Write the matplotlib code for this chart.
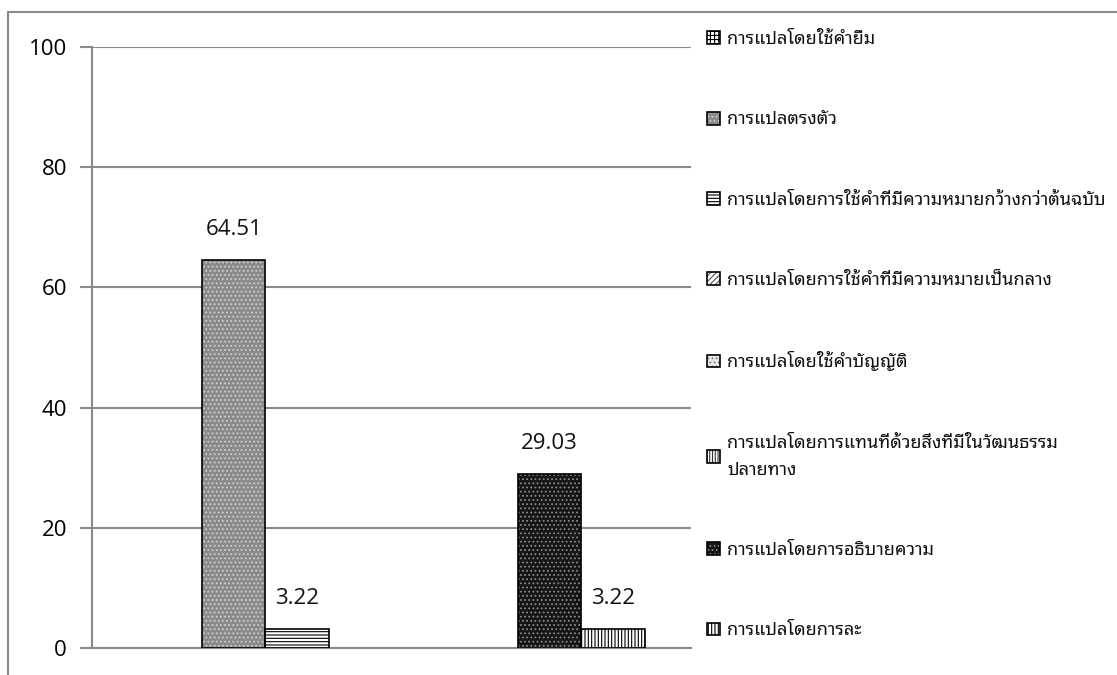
import matplotlib
matplotlib.use("Agg")
import matplotlib.pyplot as plt
from matplotlib.patches import Patch, Rectangle
from matplotlib.legend_handler import HandlerTuple

# translation methods (legend order)
methods = [
    "การแปลโดยใช้คำยืม",
    "การแปลตรงตัว",
    "การแปลโดยการใช้คำที่มีความหมายกว้างกว่าต้นฉบับ",
    "การแปลโดยการใช้คำที่มีความหมายเป็นกลาง",
    "การแปลโดยใช้คำบัญญัติ",
    "การแปลโดยการแทนที่ด้วยสิ่งที่มีในวัฒนธรรม\nปลายทาง",
    "การแปลโดยการอธิบายความ",
    "การแปลโดยการละ",
]
# percentages for the two groups, one value per method (None = not used)
group1 = [None, 64.51, 3.22, None, None, None, None, None]
group2 = [None, None, None, None, None, None, 29.03, 3.22]

# fill, hatch, hatch colour per method
styles = [
    ("white", "++++", "black"),
    ("#8a8a8a", "....", "#d0d0d0"),
    ("white", "-----", "black"),
    ("white", "//////", "#555555"),
    ("#e8e8e8", "....", "#777777"),
    ("white", "||||||", "#333333"),
    ("#161616", "....", "#8a8a8a"),
    ("white", "|||||", "black"),
]

thai_family = ["Noto Sans Thai Looped", "Loma", "DejaVu Sans"]

plt.rcParams["hatch.linewidth"] = 0.8

fig = plt.figure(figsize=(11.17, 6.75), dpi=100)
ax = fig.add_axes([92 / 1117, 27 / 675, 599 / 1117, 601 / 675])

bar_w = 0.212
starts = [0.367, 1.421]
for start, vals in zip(starts, [group1, group2]):
    x = start
    for i, v in enumerate(vals):
        if v is None:
            continue
        fc, h, hc = styles[i]
        ax.bar(x, v, bar_w, align="edge", color=fc, hatch=h, edgecolor=hc, linewidth=0, zorder=2)
        ax.bar(x, v, bar_w, align="edge", fill=False, edgecolor="black", linewidth=1.2, zorder=3)
        ax.text(x + bar_w / 2, v + 3.3, f"{v:.2f}", ha="center", va="bottom",
                fontsize=16, family="Open Sans", color="#111111")
        x += bar_w

ax.set_xlim(0, 2)
ax.set_ylim(0, 100)
ax.set_yticks(range(0, 101, 20))
ax.set_xticks([])
ax.yaxis.grid(True, color="#8a8a8a", linewidth=1.5)
ax.set_axisbelow(True)
for s in ["top", "right"]:
    ax.spines[s].set_visible(False)
for s in ["left", "bottom"]:
    ax.spines[s].set_color("#8a8a8a")
    ax.spines[s].set_linewidth(1.5)
ax.tick_params(axis="y", length=9, width=1.5, color="#8a8a8a", pad=9, labelsize=16)
for lab in ax.get_yticklabels():
    lab.set_family("Open Sans")

handles = []
for fc, h, hc in styles:
    handles.append((Patch(facecolor=fc, hatch=h, edgecolor=hc, linewidth=0),
                    Patch(fill=False, edgecolor="black", linewidth=1.2)))
leg = ax.legend(handles, methods, handler_map={tuple: HandlerTuple(ndivide=1)},
                loc="upper left", bbox_to_anchor=(1.0, 1.055), frameon=False,
                prop={"family": thai_family, "size": 13},
                handlelength=0.72, handleheight=0.72, handletextpad=0.4,
                labelspacing=3.45, borderaxespad=0.5)
for t in leg.get_texts():
    t.set_linespacing(1.65)
    t.set_color("#111111")

# outer chart border
fig.add_artist(Rectangle((8 / 1117, -0.05), 1.2, (675 - 12) / 675 + 0.05,
                         transform=fig.transFigure, fill=False,
                         edgecolor="#8a8a8a", linewidth=1.5))

fig.savefig("out.png", dpi=100)
